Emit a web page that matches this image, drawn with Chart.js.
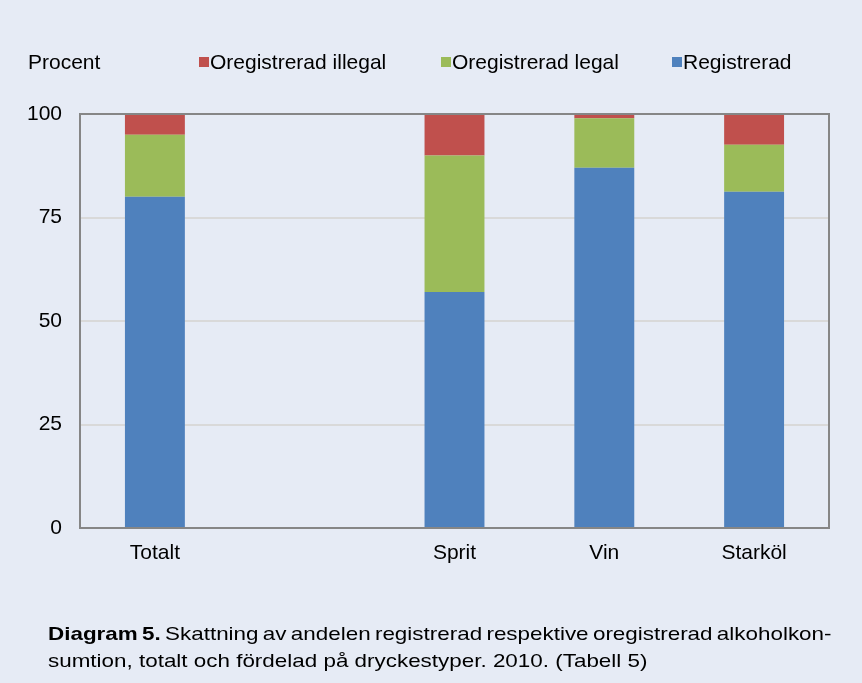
<!DOCTYPE html>
<html>
<head>
<meta charset="utf-8">
<script src="https://cdn.jsdelivr.net/npm/chart.js@4/dist/chart.umd.min.js"></script>
<style>
  html, body { margin: 0; padding: 0; }
  body {
    width: 862px; height: 683px; background: #E6EBF5;
    font-family: "Liberation Sans", Arial, sans-serif; position: relative; overflow: hidden;
  }
  #wrap { position: absolute; left: 0; top: 0; width: 862px; height: 683px; }
  .lbl { position: absolute; font-size: 21px; line-height: 24px; color: #000; white-space: nowrap; }
  .box { position: absolute; width: 10px; height: 10px; }
  #caption {
    position: absolute; left: 48px; top: 620px; width: 664px;
    font-size: 19px; line-height: 27px; color: #000;
    transform: scaleX(1.18); transform-origin: 0 0;
  }
  #caption .l1 { text-align: justify; text-align-last: justify; white-space: nowrap; word-spacing: -2.5px; }
</style>
</head>
<body>
<div id="wrap"><canvas id="chart" width="862" height="683"></canvas></div>
<div class="lbl" style="left:28px; top:50px;">Procent</div>
<div id="legend"></div>
<div id="caption">
  <div class="l1"><b>Diagram 5.</b> Skattning av andelen registrerad respektive oregistrerad alkoholkon-</div>
  <div>sumtion, totalt och fördelad på dryckestyper. 2010. (Tabell 5)</div>
</div>
<script>
const categories = ['Totalt', '', 'Sprit', 'Vin', 'Starköl'];
const registrerad = [80, null, 57, 87, 81.2];
const oregLegal = [15, null, 33, 12, 11.4];
const oregIllegal = [5, null, 10, 1, 7.4];
const yTicks = [0, 25, 50, 75, 100];

const colors = { reg: '#4F81BD', legal: '#9BBB59', illegal: '#C0504D' };

// legend in reverse order, as in the reference
const legendItems = [
  { text: 'Oregistrerad illegal', color: colors.illegal, x: 199 },
  { text: 'Oregistrerad legal', color: colors.legal, x: 441 },
  { text: 'Registrerad', color: colors.reg, x: 672 }
];
const legend = document.getElementById('legend');
legendItems.forEach(item => {
  const b = document.createElement('div');
  b.className = 'box';
  b.style.left = item.x + 'px';
  b.style.top = '57px';
  b.style.background = item.color;
  legend.appendChild(b);
  const t = document.createElement('div');
  t.className = 'lbl';
  t.style.left = (item.x + 11) + 'px';
  t.style.top = '50px';
  t.textContent = item.text;
  legend.appendChild(t);
});

const frame = {
  id: 'frame',
  afterDraw(chart) {
    const { ctx, chartArea: a } = chart;
    ctx.save();
    ctx.strokeStyle = '#868686';
    ctx.lineWidth = 2;
    ctx.strokeRect(a.left, a.top, a.right - a.left, a.bottom - a.top);
    ctx.restore();
  }
};

new Chart(document.getElementById('chart'), {
  type: 'bar',
  data: {
    labels: categories,
    datasets: [
      { label: 'Registrerad', data: registrerad, backgroundColor: colors.reg },
      { label: 'Oregistrerad legal', data: oregLegal, backgroundColor: colors.legal },
      { label: 'Oregistrerad illegal', data: oregIllegal, backgroundColor: colors.illegal }
    ]
  },
  options: {
    responsive: false,
    animation: false,
    layout: { padding: { left: 0, right: 33, top: 114, bottom: 115 } },
    datasets: { bar: { barPercentage: 0.4, categoryPercentage: 1.0 } },
    plugins: { legend: { display: false }, tooltip: { enabled: false } },
    scales: {
      x: {
        stacked: true,
        grid: { display: false },
        border: { display: false },
        afterFit: s => { s.height = 40; },
        ticks: { color: '#000', font: { family: 'Liberation Sans', size: 21 }, padding: 5 }
      },
      y: {
        stacked: true,
        min: 0,
        max: 100,
        afterFit: s => { s.width = 80; },
        afterBuildTicks: s => { s.ticks = yTicks.map(v => ({ value: v })); },
        grid: { color: '#D9D9D9', lineWidth: 2, drawTicks: false },
        border: { display: false },
        ticks: { color: '#000', font: { family: 'Liberation Sans', size: 21 }, padding: 18 }
      }
    }
  },
  plugins: [frame]
});
</script>
</body>
</html>
